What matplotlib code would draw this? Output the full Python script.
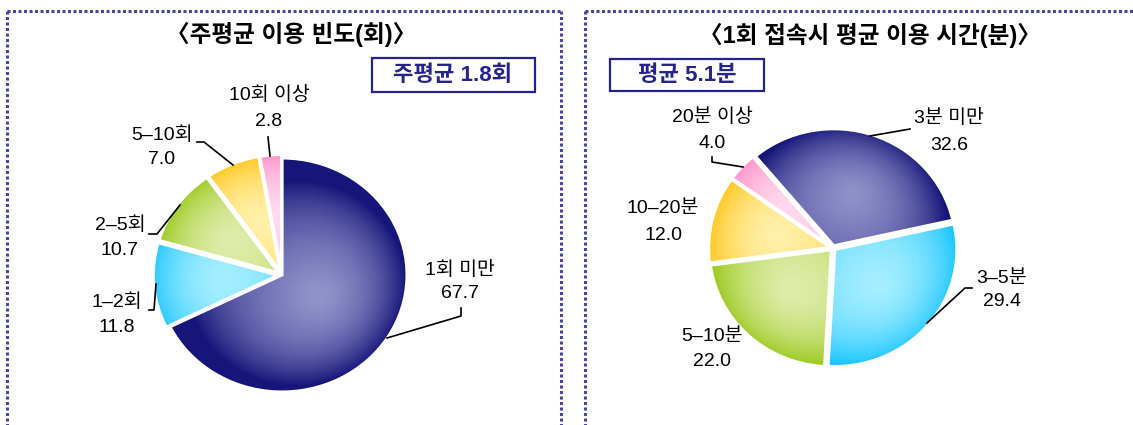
import numpy as np
import matplotlib
matplotlib.use("Agg")
import matplotlib.pyplot as plt
from matplotlib.colors import to_rgb

plt.rcParams['font.family'] = ['Liberation Sans', 'Noto Sans CJK KR', 'DejaVu Sans']

# ---------------- data ----------------
title1 = "〈주평균 이용 빈도(회)〉"
note1 = "주평균 1.8회"
cats1 = ["1회 미만", "1–2회", "2–5회", "5–10회", "10회 이상"]
vals1 = [67.7, 11.8, 10.7, 7.0, 2.8]

title2 = "〈1회 접속시 평균 이용 시간(분)〉"
note2 = "평균 5.1분"
cats2 = ["3분 미만", "3–5분", "5–10분", "10–20분", "20분 이상"]
vals2 = [32.6, 29.4, 22.0, 12.0, 4.0]

dark_cols = ["#16167a", "#1cc6ff", "#98c81a", "#ffc312", "#ff8ac6"]
light_cols = ["#9494cc", "#aaf0ff", "#e2eeb0", "#fff2ae", "#ffdcef"]

W, H = 1133, 425
fig = plt.figure(figsize=(W / 100, H / 100), dpi=100)
fig.patch.set_facecolor("white")

# overlay canvas in pixel coordinates
cv = fig.add_axes([0, 0, 1, 1], zorder=3)
cv.set_xlim(0, W)
cv.set_ylim(H, 0)
cv.axis("off")
cv.patch.set_alpha(0)

def pie_axes(cx, cy, rx, ry, pad=1.1):
    ax = fig.add_axes([(cx - pad * rx) / W, 1 - (cy + pad * ry) / H,
                       2 * pad * rx / W, 2 * pad * ry / H], zorder=1)
    return ax

def draw_pie(ax, vals, start, explode, pad=1.1):
    wedges, _ = ax.pie(vals, startangle=start, counterclock=False,
                       colors=dark_cols, explode=explode, frame=True,
                       wedgeprops=dict(linewidth=0))
    ax.set_xlim(-pad, pad)
    ax.set_ylim(-pad, pad)
    n = 500
    xs = np.linspace(-pad, pad, n)
    X, Y = np.meshgrid(xs, xs)
    for w, dc, lc in zip(wedges, dark_cols, light_cols):
        cx, cy = w.center
        r = w.r
        mid = np.deg2rad((w.theta1 + w.theta2) / 2)
        span = (w.theta2 - w.theta1)
        hr = 0.5 if span < 200 else 0.35
        hx, hy = cx + hr * r * np.cos(mid), cy + hr * r * np.sin(mid)
        rr = np.hypot(X - cx, Y - cy) / r
        d = np.hypot(X - hx, Y - hy) / r
        t = np.clip(0.55 * rr ** 4 + 0.75 * d ** 1.3, 0, 1)
        dc = np.array(to_rgb(dc)); lc = np.array(to_rgb(lc))
        img = lc[None, None, :] * (1 - t[..., None]) + dc[None, None, :] * t[..., None]
        im = ax.imshow(img, extent=(-pad, pad, -pad, pad), origin="lower",
                       aspect="auto", interpolation="bilinear", zorder=2)
        im.set_clip_path(w)
        w.set_zorder(1)
        edge = matplotlib.patches.Wedge(w.center, w.r, w.theta1, w.theta2,
                                        facecolor="none", edgecolor="white",
                                        linewidth=2.2, zorder=3)
        ax.add_patch(edge)
    ax.set_aspect("auto")
    ax.axis("off")
    return wedges

# ---------------- pies ----------------
ax1 = pie_axes(282, 275, 125, 117)
draw_pie(ax1, vals1, 90, [0, 0.03, 0.03, 0.03, 0.03])

ax2 = pie_axes(833, 248, 122, 117)
draw_pie(ax2, vals2, 130, [0.02, 0.02, 0.02, 0.02, 0.02])

# ---------------- frames ----------------
bcol = "#4646a6"
ls = (0, (1, 0.8))
cv.plot([7, 561], [11, 11], color=bcol, lw=2.2, ls=ls)
cv.plot([7, 7], [11, 430], color=bcol, lw=2.2, ls=ls)
cv.plot([561, 561], [11, 430], color=bcol, lw=2.2, ls=ls)
cv.plot([585, 1140], [11, 11], color=bcol, lw=2.2, ls=ls)
cv.plot([585, 585], [11, 430], color=bcol, lw=2.2, ls=ls)

# ---------------- titles & notes ----------------
cv.text(291, 34, title1, ha="center", va="center", fontsize=17, fontweight="bold")
cv.text(870, 35, title2, ha="center", va="center", fontsize=17, fontweight="bold")

ncol = "#24248c"
cv.add_patch(matplotlib.patches.Rectangle((372, 58), 163, 34, fill=False,
                                          edgecolor=ncol, lw=1.6))
cv.text(453, 75, note1, ha="center", va="center", fontsize=16,
        fontweight="bold", color=ncol)
cv.add_patch(matplotlib.patches.Rectangle((610, 59), 154, 32, fill=False,
                                          edgecolor=ncol, lw=1.6))
cv.text(687, 75, note2, ha="center", va="center", fontsize=16,
        fontweight="bold", color=ncol)

# ---------------- labels ----------------
lab_pos1 = [(460, 270, 293), (117, 302, 328), (120, 225, 250), (162, 135, 160), (269, 95, 121)]
lab_pos2 = [(949, 118, 145), (1002, 278, 302), (712, 337, 362), (663, 208, 235), (712, 117, 143)]
for cats, vals, pos in ((cats1, vals1, lab_pos1), (cats2, vals2, lab_pos2)):
    for c, v, (x, yl, yv) in zip(cats, vals, pos):
        cv.text(x, yl, c, ha="center", va="center", fontsize=14)
        cv.text(x, yv, f"{v:.1f}", ha="center", va="center", fontsize=14)

leaders = [
    [(268, 137), (270, 156)],
    [(197, 142), (204, 142), (233, 165)],
    [(149, 234), (157, 234), (180, 205)],
    [(149, 310), (154, 310), (156, 284)],
    [(461, 308), (461, 316), (387, 338)],
    [(712, 157), (712, 162), (743, 167)],
    [(910, 129), (870, 136)],
    [(972, 288), (965, 288), (927, 323)],
]
for pts in leaders:
    xs, ys = zip(*pts)
    cv.plot(xs, ys, color="black", lw=1.2)

fig.savefig("out.png", dpi=100, facecolor="white")
